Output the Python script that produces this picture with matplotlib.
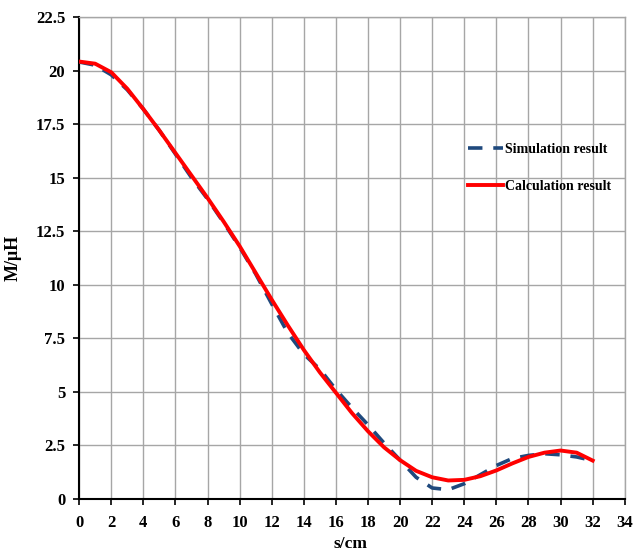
import matplotlib
matplotlib.use("Agg")
import matplotlib.pyplot as plt

plt.rcParams['font.family'] = ['Liberation Serif', 'DejaVu Serif']
plt.rcParams['font.weight'] = 'bold'

# data
s_cm = list(range(0, 33))
simulation = [20.4, 20.25, 19.8, 19.1, 18.2, 17.2, 16.1, 15.0, 14.0, 12.9,
              11.75, 10.5, 9.1, 7.75, 6.75, 6.05, 5.1, 4.25, 3.45, 2.6,
              1.8, 1.0, 0.5, 0.42, 0.7, 1.12, 1.55, 1.88, 2.02, 2.1,
              2.05, 1.95, 1.78]
calculation = [20.42, 20.32, 19.92, 19.15, 18.2, 17.2, 16.15, 15.1, 14.05, 12.95,
               11.8, 10.55, 9.3, 8.1, 6.95, 5.9, 4.95, 4.0, 3.15, 2.4,
               1.8, 1.3, 1.0, 0.85, 0.88, 1.05, 1.32, 1.65, 1.95, 2.15,
               2.25, 2.15, 1.78]
x_ticks = list(range(0, 35, 2))
y_ticks = [0, 2.5, 5, 7.5, 10, 12.5, 15, 17.5, 20, 22.5]
y_tick_labels = ['0', '2.5', '5', '7.5', '10', '12.5', '15', '17.5', '20', '22.5']

fig = plt.figure(figsize=(6.33, 5.58), dpi=100)
ax = fig.add_axes([0.125, 0.1063, 0.862, 0.8632])

ax.plot(s_cm, simulation, color='#1F497D', lw=2.6, dashes=(4, 3),
        label='Simulation result', zorder=3)
ax.plot(s_cm, calculation, color='#FF0000', lw=2.8,
        label='Calculation result', zorder=4)

ax.set_xlim(0, 34)
ax.set_ylim(0, 22.5)
ax.set_xticks(x_ticks)
ax.set_yticks(y_ticks)
ax.set_yticklabels(y_tick_labels)
ax.tick_params(axis='both', labelsize=12, direction='out', length=4, width=1.2, pad=6)
ax.tick_params(axis='x', pad=8)

ax.grid(True, color='#A6A6A6', lw=1.0)
ax.set_axisbelow(True)
for side in ['top', 'right']:
    ax.spines[side].set_color('#A6A6A6')
    ax.spines[side].set_linewidth(1.0)
for side in ['left', 'bottom']:
    ax.spines[side].set_color('black')
    ax.spines[side].set_linewidth(1.5)

ax.set_xlabel('s/cm', fontsize=12.5, fontweight='bold')
ax.set_ylabel('M/μH', fontsize=13, fontweight='bold')
ax.xaxis.set_label_coords(0.498, -0.078)
ax.yaxis.set_label_coords(-0.105, 0.5)

ax.legend(loc='center left', bbox_to_anchor=(0.69, 0.6865), frameon=False,
          fontsize=10, handlelength=2.5, handletextpad=0.15, labelspacing=1.7)

fig.savefig('out.png', dpi=100)
